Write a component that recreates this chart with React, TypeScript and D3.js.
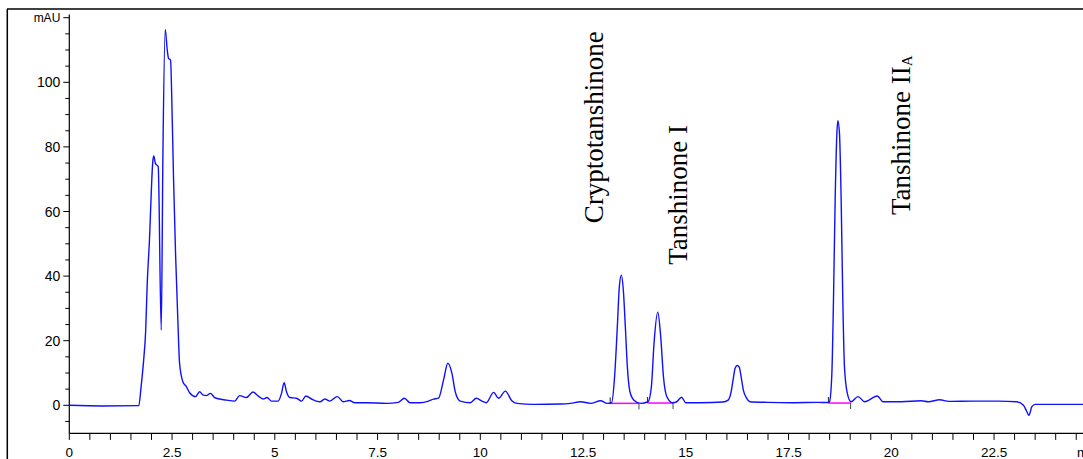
import React from 'react';
import * as d3 from 'd3';

// retention time (min) and detector signal (mAU)
const times = [
  0, 0.8, 1.69, 1.749, 1.809, 1.858, 1.897, 1.946, 2.035, 2.055, 2.094, 2.163, 2.237, 2.278, 2.334,
  2.383, 2.415, 2.463, 2.505, 2.537, 2.585, 2.641, 2.683, 2.763, 2.846, 2.927, 3.073, 3.171, 3.251,
  3.334, 3.432, 3.537, 3.659, 3.822, 4.024, 4.146, 4.31, 4.471, 4.593, 4.715, 4.812, 4.92, 5.08,
  5.163, 5.227, 5.285, 5.366, 5.529, 5.651, 5.756, 5.895, 6.098, 6.22, 6.341, 6.52, 6.666, 6.812,
  6.951, 7.237, 7.724, 8.007, 8.154, 8.293, 8.537, 8.739, 8.861, 8.983, 9.105, 9.21, 9.31, 9.39,
  9.512, 9.756, 9.902, 10.041, 10.146, 10.324, 10.446, 10.61, 10.773, 10.895, 11.3, 11.951, 12.195,
  12.439, 12.683, 12.927, 13.09, 13.195, 13.268, 13.334, 13.383, 13.432, 13.48, 13.529, 13.578,
  13.641, 13.739, 13.902, 14.08, 14.163, 14.227, 14.317, 14.39, 14.456, 14.537, 14.676, 14.78,
  14.895, 15.0, 15.366, 15.9, 16.03, 16.1, 16.15, 16.2, 16.25, 16.3, 16.35, 16.4, 16.48, 16.56,
  17.0, 17.6, 18.2, 18.46, 18.496, 18.554, 18.593, 18.634, 18.676, 18.7, 18.739, 18.78, 18.82,
  18.86, 18.93, 19.02, 19.19, 19.35, 19.66, 19.8, 20.24, 20.73, 20.9, 21.18, 21.4, 22.0, 22.6,
  23.05, 23.21, 23.3, 23.35, 23.42, 23.5, 24.0, 24.8,
];
const signal = [
  0, -0.2, -0.1, 6, 14, 23, 38, 50, 75.9, 77.2, 74.9, 73.9, 23.3, 78, 116.4,
  110, 107.4, 106.9, 88.3, 69.8, 47, 26.4, 13, 7.3, 5.8, 3.9, 2.7, 4.2, 3.2,
  3.0, 3.7, 2.4, 1.95, 1.6, 1.3, 3.0, 2.4, 4.1, 2.9, 1.95, 2.4, 1.3, 1.3,
  3.7, 7.0, 4.2, 2.4, 2.2, 1.3, 2.9, 1.95, 1.1, 1.95, 1.3, 2.7, 1.1, 1.5,
  0.8, 0.8, 0.6, 0.9, 2.2, 0.8, 0.8, 1.3, 1.9, 2.2, 7.8, 13, 9.9, 4.2,
  1.3, 0.8, 2.2, 1.3, 0.8, 4.0, 2.2, 4.4, 1.3, 0.6, 0.3, 0.4, 0.6,
  1.1, 0.6, 1.4, 0.6, 0.8, 8.9, 24.3, 36.7, 40.3, 35.7, 24.3, 11.9,
  4.2, 1.6, 0.6, 1.1, 5.8, 19.2, 28.8, 21.2, 8.9, 2.7, 0.8, 1.1,
  2.5, 0.8, 0.8, 1.0, 1.6, 4, 7.8, 11.5, 12.3, 11.8, 8.5, 4.7, 2.2, 1.1,
  0.9, 0.8, 0.9, 0.85, 1.1, 9.9, 32.6, 63.6, 84.2, 88.1, 84.2, 63.6, 32.6,
  12, 3.7, 1.1, 2.7, 1.1, 2.9, 1.1, 1.1, 1.4, 1.1, 1.7, 1.2, 1.3, 1.3,
  1.1, 0.1, -2, -3.1, -0.4, 0.3, 0.3, 0.3,
];

// integrated peaks: start / end time and baseline level
const peakStart = [13.16, 14.07, 18.47];
const peakEnd = [13.86, 14.69, 19.01];
const peakBase = [0.6, 0.7, 0.7];

// compound labels (time and mAU where the rotated text starts)
const labelNames = ['Cryptotanshinone', 'Tanshinone I', 'Tanshinone II'];
const labelSubs = ['', '', 'A'];
const labelTime = [12.99, 15.03, 20.45];
const labelLevel = [56.4, 43.5, 58.9];

const xTicks = d3.range(0, 25, 0.5);
const xLabels = [0, 2.5, 5, 7.5, 10, 12.5, 15, 17.5, 20, 22.5];
const yTicks = d3.range(-5, 125, 5);
const yLabels = [0, 20, 40, 60, 80, 100];

const W = 1083;
const H = 459;
const axisFont = '"Liberation Sans Narrow", "Arial Narrow", sans-serif';

export default function App() {
  const x = d3.scaleLinear().domain([0, 25]).range([69.3, 69.3 + 25 * 41.1]);
  const y = d3.scaleLinear().domain([0, 120]).range([405.3, 405.3 - 120 * 3.23]);
  const x0 = x(0);
  const yBottom = y(-8.7);

  const pts = times.map((t, i) => [t, signal[i]] as [number, number]);
  const line = d3.line<[number, number]>()
    .x(d => x(d[0]))
    .y(d => y(d[1]))
    .curve(d3.curveMonotoneX);

  return (
    <svg width={W} height={H} style={{ position: 'absolute', left: 0, top: 0, display: 'block', background: '#fff' }}>
      {/* outer frame */}
      <line x1={7} y1={9} x2={W} y2={9} stroke="#000" strokeWidth={1.5} />
      <line x1={7.3} y1={9} x2={7.3} y2={H} stroke="#000" strokeWidth={1.5} />

      {/* y axis */}
      <line x1={x0} y1={y(121)} x2={x0} y2={yBottom} stroke="#000" strokeWidth={1.2} />
      {yTicks.map(v => {
        const major = v % 20 === 0;
        return <line key={'yt' + v} x1={x0 - (major ? 6 : 4)} x2={x0} y1={y(v)} y2={y(v)} stroke="#000" strokeWidth={1} />;
      })}
      {yLabels.map(v => (
        <text key={'yl' + v} x={x0 - 9} y={y(v)} dy="0.36em" textAnchor="end" fontFamily={axisFont} fontSize={14} fill="#000">{v}</text>
      ))}
      <text x={x0 - 9} y={y(120)} dy="0.36em" textAnchor="end" fontFamily={axisFont} fontSize={12} fill="#000">mAU</text>

      {/* x axis */}
      <line x1={x0} y1={yBottom} x2={W} y2={yBottom} stroke="#000" strokeWidth={1.2} />
      {xTicks.map(t => (
        <line key={'xt' + t} x1={x(t)} x2={x(t)} y1={yBottom} y2={yBottom + 6.5} stroke="#000" strokeWidth={1} />
      ))}
      {xLabels.map(t => (
        <text key={'xl' + t} x={x(t)} y={456.5} textAnchor="middle" fontFamily={axisFont} fontSize={13.5} fill="#000">{t}</text>
      ))}
      <text x={1077} y={456.5} fontFamily={axisFont} fontSize={13.5} fill="#000">min</text>

      {/* integration baselines */}
      {peakStart.map((s, i) => (
        <g key={'pk' + i}>
          <line x1={x(s)} x2={x(peakEnd[i])} y1={y(peakBase[i])} y2={y(peakBase[i])} stroke="#ff00ff" strokeWidth={1.5} />
          <line x1={x(s)} x2={x(s)} y1={y(peakBase[i]) - 6} y2={y(peakBase[i])} stroke="#222" strokeWidth={1} />
          <line x1={x(peakEnd[i])} x2={x(peakEnd[i])} y1={y(peakBase[i])} y2={y(peakBase[i]) + 6} stroke="#444" strokeWidth={1} />
        </g>
      ))}

      {/* trace */}
      <path d={line(pts) || ''} fill="none" stroke="#1010ff" strokeWidth={1.4} strokeLinejoin="round" />

      {/* compound labels */}
      {labelNames.map((name, i) => (
        <text key={'lb' + i}
          transform={`translate(${x(labelTime[i])},${y(labelLevel[i])}) rotate(-90)`}
          fontFamily='"Liberation Serif", "Times New Roman", serif' fontSize={27} fill="#000">
          {name}
          {labelSubs[i] && <tspan fontSize={15} dy={2}>{labelSubs[i]}</tspan>}
        </text>
      ))}
    </svg>
  );
}
